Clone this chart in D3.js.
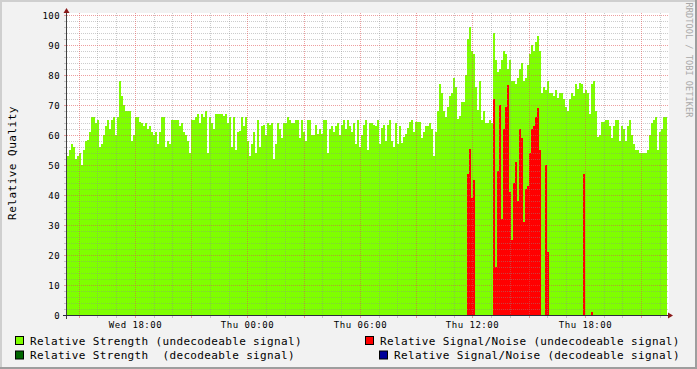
<!DOCTYPE html>
<html>
<head>
<meta charset="utf-8">
<script src="https://cdn.jsdelivr.net/npm/d3@7"></script>
<style>
  body { margin: 0; background: #fff; }
  svg { display: block; }
</style>
</head>
<body>
<div id="chart"></div>
<script>
// samples every 6.4 minutes, starting Wed 14:21
var startTime = new Date(2024, 0, 3, 14, 21);
var stepMinutes = 6.4;

// Relative Strength (undecodeable signal)
var strength = [
  53,55,57,56,52,53,54,50,55,58,58.5,61,66,66,64,65,56,57,60,63,
  65,62,65,66,60,66,78,73,70,68,68,68,58,60,66,66,64.5,64,63,64,
  62,63,61,60,61,57,61,66,66,56,58,57,65,65,65,65,63,64,61,60,
  58,54,65,65,66,67,64,67,66,68,54,66,64,62,67,67,67,67,66.5,67,
  64,66,56,66,55,61,61.5,66,63,66,58,53,57,61,54,65,56,63,63.5,60,
  64,63.5,64,52,57,64,62,59,64,64,66,65,64,64,65,65,59,65,61,58,
  65,65,60,60,63.5,60.5,62,60.5,65,65,54,62,63,61,63,64,60,63.5,65,62,
  65,63,61,64,57,65,56,60,63.5,65,55,64,64,63.5,63,65,57,62.5,63.5,58,
  63.5,65,58,56,64,57,63,57.5,59.5,60.5,62.5,64.5,65,61,64.5,64.5,64.5,59,61,63,
  63,64,62,53,61,68,77,74,68,66,69.5,73,74,79,76,65.5,66.3,71,71,80,
  92,96,88,87,76,68.3,78,65,68,64,64,65,64,94,85,81,82,85,88,87,
  82,85,78,78,77,79,82,84,78,79,83.5,87,90,88,91,93,88,74,76,75,
  78,74,74,73,75,72.5,74,74,72,69.5,68,72,74,73,77,75.5,77.5,77,74,75,
  74,67,77,78,68,59.4,60,64.4,64.4,65,65,63,59,63,65,65,58,63,62,58,
  63,65,60,57,55,55,54,54,54,54,55,60,64,65,66,55,61,62,66,66
];

// Relative Signal/Noise (undecodeable signal)
var snr = [
  0,0,0,0,0,0,0,0,0,0,0,0,0,0,0,0,0,0,0,0,
  0,0,0,0,0,0,0,0,0,0,0,0,0,0,0,0,0,0,0,0,
  0,0,0,0,0,0,0,0,0,0,0,0,0,0,0,0,0,0,0,0,
  0,0,0,0,0,0,0,0,0,0,0,0,0,0,0,0,0,0,0,0,
  0,0,0,0,0,0,0,0,0,0,0,0,0,0,0,0,0,0,0,0,
  0,0,0,0,0,0,0,0,0,0,0,0,0,0,0,0,0,0,0,0,
  0,0,0,0,0,0,0,0,0,0,0,0,0,0,0,0,0,0,0,0,
  0,0,0,0,0,0,0,0,0,0,0,0,0,0,0,0,0,0,0,0,
  0,0,0,0,0,0,0,0,0,0,0,0,0,0,0,0,0,0,0,0,
  0,0,0,0,0,0,0,0,0,0,0,0,0,0,0,0,0,0,0,0,
  47,55.5,39,45,0,0,0,0,0,0,0,0,0,72,16,48,70,32,62,69.4,
  76.7,41,25,44,51,38,62,59,31,42,43,54,62,63,66,69,55,0,0,50,
  21,0,0,0,0,0,0,0,0,0,0,0,0,0,0,0,0,0,47,0,
  0,0,1,0,0,0,0,0,0,0,0,0,0,0,0,0,0,0,0,0,
  0,0,0,0,0,0,0,0,0,0,0,0,0,0,0,0,0,0,0,0
];

var yTicks = [0,10,20,30,40,50,60,70,80,90,100];
var legendRow1 = ["Relative Strength (undecodeable signal)", "Relative Signal/Noise (undecodeable signal)"];
var legendRow2 = ["Relative Strength  (decodeable signal)", "Relative Signal/Noise (decodeable signal)"];
var yTitle = "Relative Quality";
var watermark = "RRDTOOL / TOBI OETIKER";

var w = 697, h = 369;
var x0 = 67, x1 = 667, yTop = 15, yBot = 315;
var green = "#7FFF00", red = "#FF0000", darkGreen = "#006600", blue = "#000099";
var gridCol = "#8F8F8F", mgridCol = "#DE5050";

var stepMs = stepMinutes * 60000;
var endTime = new Date(+startTime + strength.length * stepMs);
var times = strength.map(function(d, i) { return new Date(+startTime + i * stepMs); });

var x = d3.scaleTime().domain([startTime, endTime]).range([x0, x1]);
var y = d3.scaleLinear().domain([0, 100]).range([yBot, yTop]);

function series(vals) {
  var pts = vals.map(function(v, i) { return { t: times[i], v: v }; });
  pts.push({ t: endTime, v: vals[vals.length - 1] });
  return pts;
}

var svg = d3.select("#chart").append("svg")
  .attr("width", w).attr("height", h)
  .style("font-family", "'DejaVu Sans Mono', monospace");

// background and shaded frame
svg.append("rect").attr("width", w).attr("height", h).attr("fill", "#F2F2F2");
svg.append("rect").attr("x", 0).attr("y", 0).attr("width", w).attr("height", 2).attr("fill", "#CFCFCF");
svg.append("rect").attr("x", 0).attr("y", 0).attr("width", 2).attr("height", h).attr("fill", "#CFCFCF");
svg.append("rect").attr("x", 0).attr("y", h - 2).attr("width", w).attr("height", 2).attr("fill", "#9E9E9E");
svg.append("rect").attr("x", w - 2).attr("y", 0).attr("width", 2).attr("height", h).attr("fill", "#9E9E9E");

// canvas
svg.append("rect").attr("x", x0).attr("y", yTop - 2).attr("width", x1 - x0 + 2).attr("height", yBot - yTop + 2)
  .attr("fill", "#fff");

// areas
var area = d3.area()
  .curve(d3.curveStepAfter)
  .x(function(d) { return x(d.t); })
  .y0(y(0))
  .y1(function(d) { return y(d.v); });

svg.append("path").datum(series(strength))
  .attr("d", area).attr("fill", green).attr("shape-rendering", "crispEdges");
svg.append("path").datum(series(snr))
  .attr("d", area).attr("fill", red).attr("shape-rendering", "crispEdges");

// grid
var grid = svg.append("g").attr("shape-rendering", "crispEdges");

function hLine(v, col, op) {
  var yy = Math.round(y(v)) + 0.5;
  grid.append("line").attr("x1", x0).attr("x2", x1 + 2).attr("y1", yy).attr("y2", yy)
    .attr("stroke", col).attr("stroke-opacity", op).attr("stroke-dasharray", "1,1");
  grid.append("line").attr("x1", x0 - 3).attr("x2", x0).attr("y1", yy).attr("y2", yy)
    .attr("stroke", col).attr("stroke-opacity", op);
}
function vLine(t, col, op) {
  var xx = Math.floor(x(t)) + 0.5;
  grid.append("line").attr("x1", xx).attr("x2", xx).attr("y1", yTop - 2).attr("y2", yBot)
    .attr("stroke", col).attr("stroke-opacity", op).attr("stroke-dasharray", "1,1");
  grid.append("line").attr("x1", xx).attr("x2", xx).attr("y1", yBot).attr("y2", yBot + 3)
    .attr("stroke", col).attr("stroke-opacity", op);
}

d3.range(2, 100, 2).forEach(function(v) {
  if (v % 10 !== 0) hLine(v, gridCol, 0.45);
});
x.ticks(d3.timeHour.every(1)).forEach(function(t) {
  if (t.getHours() % 3 !== 0) vLine(t, gridCol, 0.45);
});
yTicks.forEach(function(v) { if (v > 0) hLine(v, mgridCol, 0.55); });
x.ticks(d3.timeHour.every(3)).forEach(function(t) { vLine(t, mgridCol, 0.55); });

// axes
svg.append("line").attr("x1", x0 - 0.5).attr("x2", x0 - 0.5).attr("y1", yBot + 4).attr("y2", yTop - 3)
  .attr("stroke", "#404040");
svg.append("line").attr("x1", x0 - 4).attr("x2", x1 + 4).attr("y1", yBot + 0.5).attr("y2", yBot + 0.5)
  .attr("stroke", "#2C2C3C");
svg.append("path").attr("d", "M" + (x0 - 3.5) + "," + (yTop - 2) + "L" + (x0 + 2.5) + "," + (yTop - 2) + "L" + (x0 - 0.5) + "," + (yTop - 7) + "Z")
  .attr("fill", "#8B1A1A");
svg.append("path").attr("d", "M" + (x1 + 1) + "," + (yBot - 2.5) + "L" + (x1 + 1) + "," + (yBot + 3.5) + "L" + (x1 + 6) + "," + (yBot + 0.5) + "Z")
  .attr("fill", "#8B1A1A");

// y tick labels
svg.append("g").selectAll("text").data(yTicks).enter().append("text")
  .attr("x", 60)
  .attr("y", function(d) { return y(d) + 3.5; })
  .attr("text-anchor", "end")
  .style("font-size", "9px")
  .style("letter-spacing", "0.4px")
  .text(function(d) { return d; });

// x labels
var fmt = d3.timeFormat("%a %H:%M");
svg.append("g").selectAll("text").data(x.ticks(d3.timeHour.every(6))).enter().append("text")
  .attr("x", function(d) { return Math.floor(x(d)) + 0.5; })
  .attr("y", 328)
  .attr("text-anchor", "middle")
  .style("font-size", "9px")
  .style("letter-spacing", "0.5px")
  .text(function(d) { return fmt(d); });

// y title
svg.append("text")
  .attr("transform", "translate(16,163) rotate(-90)")
  .attr("text-anchor", "middle")
  .style("font-size", "11px")
  .style("letter-spacing", "0.5px")
  .text(yTitle);

// watermark
svg.append("text")
  .attr("transform", "translate(685.5,60) rotate(90)")
  .attr("text-anchor", "middle")
  .attr("fill", "#A8A8A8")
  .style("font-size", "8.5px")
  .style("letter-spacing", "0.1px")
  .text(watermark);

// legend
var legend = svg.append("g").style("font-size", "11px").style("letter-spacing", "0.35px")
  .style("white-space", "pre");
function legendItem(bx, by, col, label) {
  legend.append("rect").attr("x", bx + 0.5).attr("y", by + 0.5).attr("width", 8).attr("height", 8)
    .attr("fill", col).attr("stroke", "#000");
  legend.append("text").attr("x", bx + 15).attr("y", by + 8.5)
    .attr("xml:space", "preserve").text(label);
}
legendItem(15, 336, green, legendRow1[0]);
legendItem(365, 336, red, legendRow1[1]);
legendItem(15, 350.5, darkGreen, legendRow2[0]);
legendItem(379, 350.5, blue, legendRow2[1]);
</script>
</body>
</html>
